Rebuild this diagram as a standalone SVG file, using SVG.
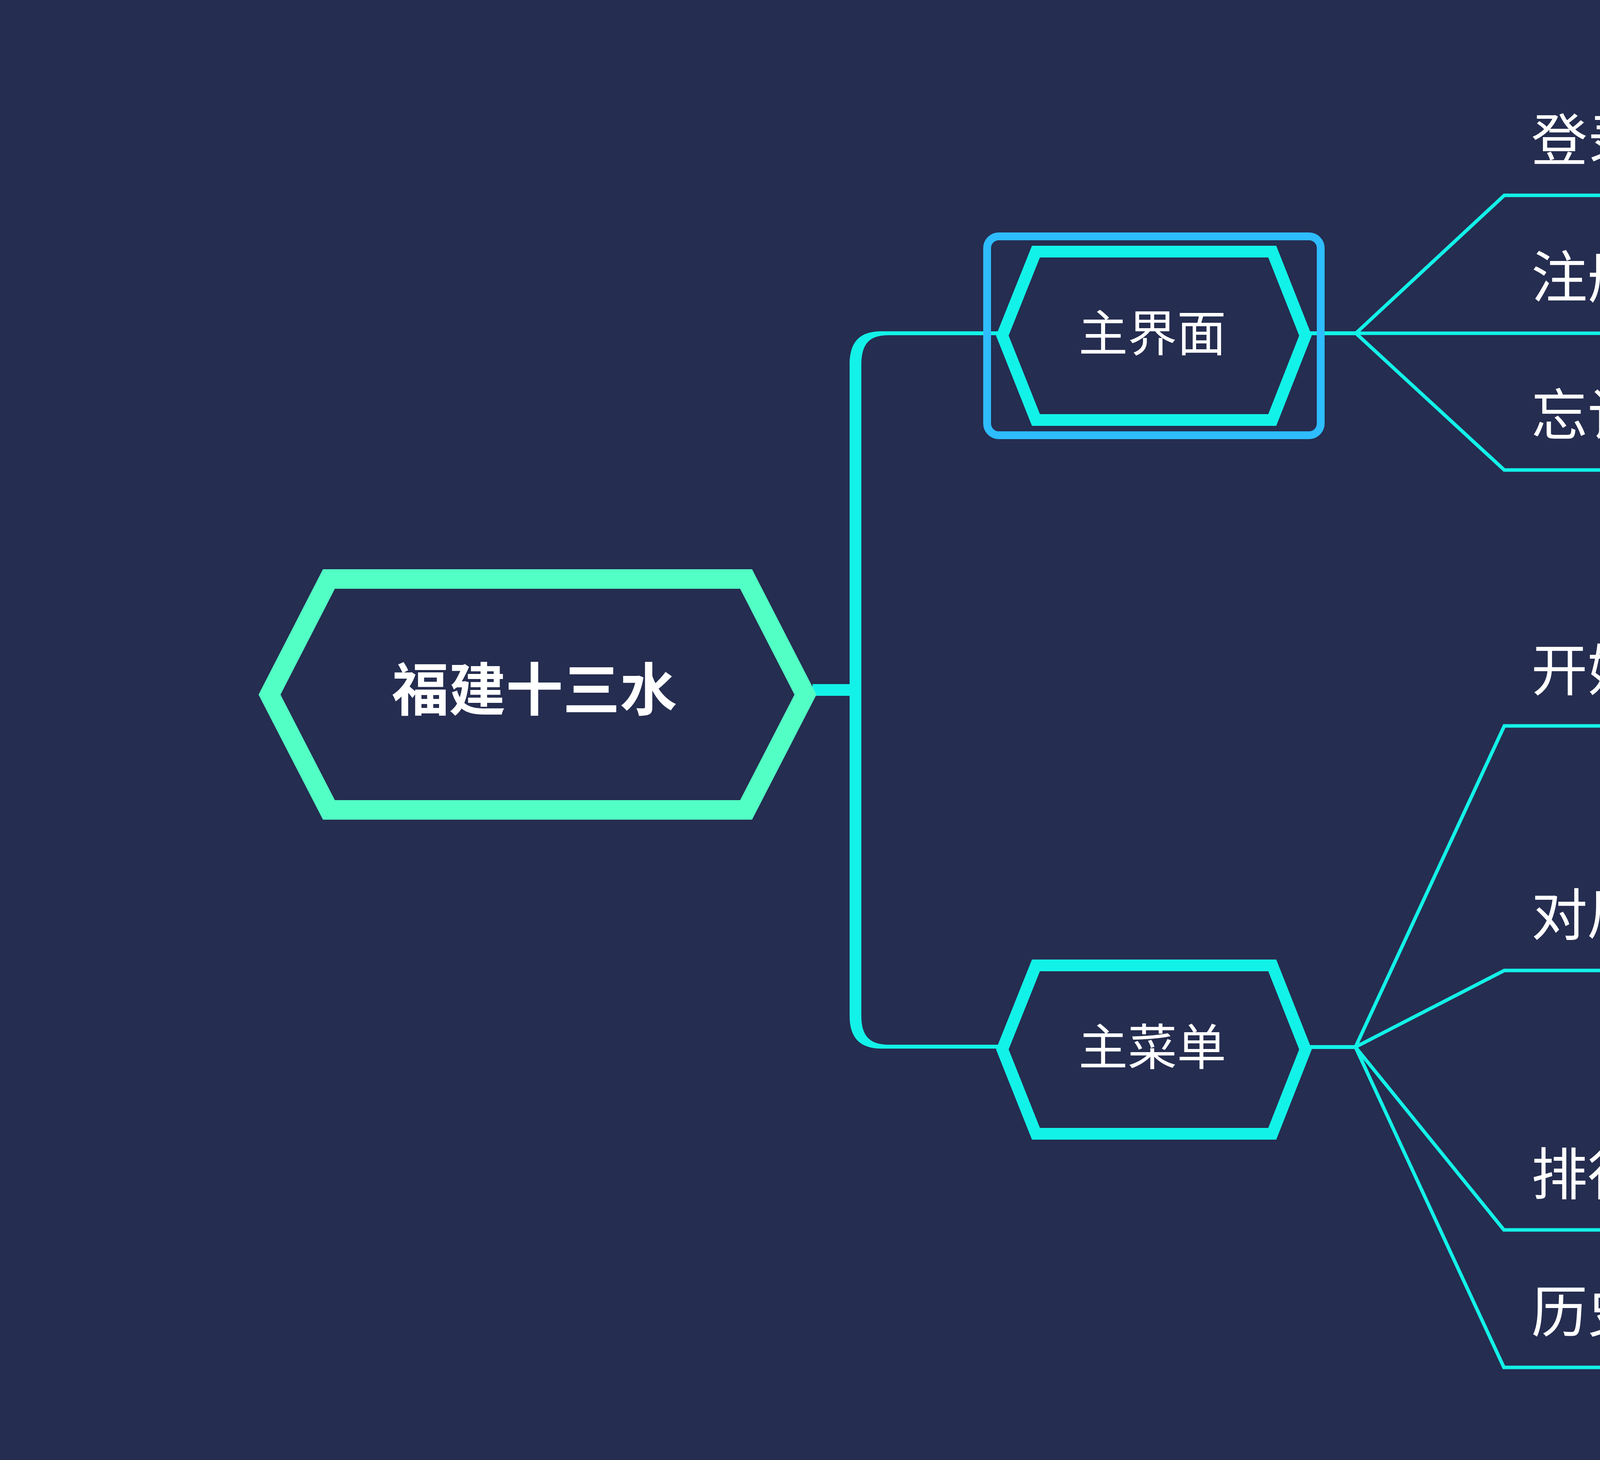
<svg xmlns="http://www.w3.org/2000/svg" width="6055" height="3737" viewBox="0 0 6055 3737">
  <style>
    .t { font-family: "Noto Sans CJK SC", "Noto Sans", sans-serif; fill: #FFFFFF; }
    .l1 { font-size: 144px; }
    .l2 { font-size: 117px; }
    .br { fill: none; stroke: #13F2E8; stroke-width: 9; stroke-linejoin: miter; }
    .hex { fill: #252D50; stroke: #13F2E8; stroke-width: 30; stroke-linejoin: miter; }
    .rel { fill: none; stroke: #ED9D2D; stroke-width: 18; stroke-dasharray: 88 28; stroke-linecap: butt; }
  </style>
  <defs>
    <marker id="arr" markerUnits="userSpaceOnUse" markerWidth="80" markerHeight="80" viewBox="0 0 80 80" refX="0" refY="40" orient="auto">
      <path d="M0,0 L78,40 L0,80 Z" fill="#ED9D2D"/>
    </marker>
  </defs>
  <rect x="0" y="0" width="6055" height="3737" fill="#252D50"/>

  <g id="connectors">
    <rect x="2080" y="1751" width="115" height="30" fill="#13F2E8"/>
    <path d="M2175,935 C2175,875 2200,848 2257,848 L2570,848 L2570,858 L2275,858 C2225,858 2205,880 2205,935 L2205,2600 C2205,2650 2225,2674 2275,2674 L2570,2674 L2570,2684 L2257,2684 C2200,2684 2175,2655 2175,2600 Z" fill="#13F2E8"/>
    <rect x="3340" y="848" width="132" height="10" fill="#13F2E8"/>
    <path class="br" d="M3471,853 L3851,500 L4280,500"/>
    <path class="br" d="M3471,853 L4280,853"/>
    <path class="br" d="M3471,853 L3851,1203 L4573,1203"/>
    <rect x="3340" y="2675" width="132" height="10" fill="#13F2E8"/>
    <path class="br" d="M3470,2680 L3851,1858 L4575,1858"/>
    <path class="br" d="M3470,2680 L3851,2484 L5395,2484"/>
    <path class="br" d="M4407,2484 L4789,2170 L5395,2170"/>
    <path class="br" d="M4407,2484 L4789,2796 L5395,2796"/>
    <path class="br" d="M3470,2680 L3850,3148 L5013,3148"/>
    <path class="br" d="M3470,2680 L3850,3500 L4574,3500"/>
    <path class="rel" d="M4325,367 C4620,385 4870,500 4935,620 C4975,700 4800,733 4403,733" marker-end="url(#arr)"/>
    <path class="rel" d="M4325,381 C4650,381 4925,560 4925,800 C4925,960 4800,1120 4695,1111" marker-end="url(#arr)"/>
  </g>

  <g id="root">
    <polygon points="842,1482 1910,1482 2062,1778 1910,2073 842,2073 690,1778" fill="#252D50" stroke="#52FFC4" stroke-width="50" stroke-linejoin="miter"/>
    <text class="t" x="1368" y="1818" font-size="146" font-weight="bold" text-anchor="middle">福建十三水</text>
  </g>

  <g id="node-zhujiemian">
    <polygon class="hex" points="2652,644 3257,644 3342,859 3257,1075 2652,1075 2566,859"/>
    <rect x="2527" y="605" width="854" height="509" rx="30" ry="30" fill="none" stroke="#2EBDFF" stroke-width="20"/>
    <text class="t" x="2950" y="899" font-size="126" text-anchor="middle">主界面</text>
  </g>

  <g id="node-zhucaidan">
    <polygon class="hex" points="2652,2471 3257,2471 3342,2686 3257,2902 2652,2902 2566,2686"/>
    <text class="t" x="2950" y="2726" font-size="126" text-anchor="middle">主菜单</text>
  </g>

  <g id="node-denglu"><text class="t l1" x="3920" y="411">登录</text></g>
  <g id="node-zhuce"><text class="t l1" x="3920" y="762">注册</text></g>
  <g id="node-wangjimima"><text class="t l1" x="3920" y="1115">忘记密码</text></g>
  <g id="node-kaishiyouxi"><text class="t l1" x="3920" y="1768">开始游戏</text></g>
  <g id="node-duiju"><text class="t l1" x="3920" y="2395">对局</text></g>
  <g id="node-jingdian"><text class="t l2" x="4855" y="2091">经典对战</text></g>
  <g id="node-zudui"><text class="t l2" x="4855" y="2403">组队对战</text></g>
  <g id="node-haoyou"><text class="t l2" x="4855" y="2716">好友对战</text></g>
  <g id="node-paihangbang"><text class="t l1" x="3920" y="3058">排行榜（积分）</text></g>
  <g id="node-lishiduiju"><text class="t l1" x="3920" y="3410">历史对局</text></g>

  <g id="watermark">
    <path d="M5545,0 L6055,0 L6055,269 L5552,269 Q5540,269 5535,259 L5462,146 Q5455,133 5462,120 L5532,10 Q5537,0 5545,0 Z" fill="#FF6953"/>
    <text x="5992" y="113" font-family="Liberation Sans, Arial, sans-serif" font-weight="bold" font-size="64" fill="#FFFFFF" text-anchor="end">XMind</text>
    <text class="t" x="5594" y="201" font-size="78" letter-spacing="29">试用模式</text>
  </g>
</svg>
